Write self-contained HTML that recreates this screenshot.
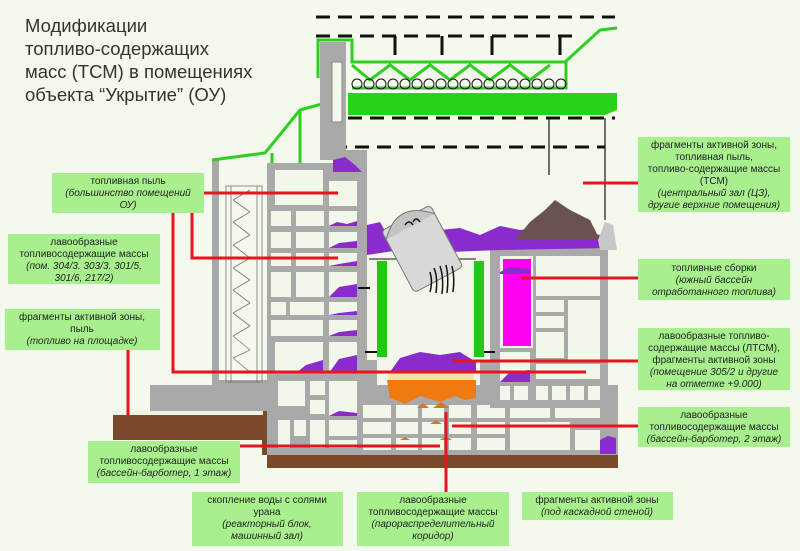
<!DOCTYPE html>
<html><head><meta charset="utf-8"><style>
html,body{margin:0;padding:0;background:#f3f9ec;}
svg{display:block;}
.l{font-family:"Liberation Sans",sans-serif;font-size:10px;fill:#222;text-anchor:middle;}
.i{font-style:italic;}
</style></head><body>
<svg width="800" height="551" viewBox="0 0 800 551" xmlns="http://www.w3.org/2000/svg">
<rect width="800" height="551" fill="#f3f9ec"/>
<!-- title -->
<g font-family="Liberation Sans, sans-serif" font-size="18.5" fill="#333">
<text x="25" y="32">Модификации</text>
<text x="25" y="55">топливо-содержащих</text>
<text x="25" y="78">масс (ТСМ) в помещениях</text>
<text x="25" y="101">объекта “Укрытие” (ОУ)</text>
</g>
<!-- ground -->
<polygon points="113,413 213,413 213,405 267,405 267,468 618,468 618,455 262,455 262,440 113,440" fill="#7a4a2a"/>
<rect x="113" y="413" width="150" height="27" fill="#7a4a2a"/>
<rect x="113" y="411" width="150" height="4" fill="#eef4e6"/>
<!-- left step -->
<rect x="150" y="385" width="117" height="26" fill="#a9a9a9"/>
<rect x="212" y="160" width="7" height="228" fill="#a9a9a9"/>
<rect x="217" y="380" width="50" height="8" fill="#a9a9a9"/>
<!-- stair pattern -->
<g stroke="#777" stroke-width="0.8" fill="none">
<rect x="226" y="186" width="36" height="196"/>
<line x1="231" y1="186" x2="231" y2="382"/><line x1="257" y1="186" x2="257" y2="382"/>
<path d="M233,200 L250,190 M233,200 L250,212 M233,222 L250,212 M233,222 L250,235 M233,245 L250,235 M233,245 L250,258 M233,268 L250,258 M233,268 L250,280 M233,290 L250,280 M233,290 L250,303 M233,313 L250,303 M233,313 L250,326 M233,336 L250,326 M233,336 L250,350 M233,358 L250,350 M233,358 L250,372"/>
</g>
<!-- green roof lines -->
<g stroke="#2fcf1f" stroke-width="3" fill="none">
<polyline points="212,160 265,153 300,110 322,104"/>
<line x1="300" y1="110" x2="300" y2="163"/>
<line x1="272" y1="153" x2="272" y2="163"/>
<polyline points="318,78 318,40 352,40 352,62 565,62 600,30 617,28"/>
<polyline points="352,88 566,88 566,62"/>
<polyline points="352,65 370,80 390,65 410,80 430,65 450,80 470,65 490,80 510,65 530,80 550,65"/>
</g>
<g fill="none" stroke="#111" stroke-width="1">
<circle cx="357" cy="84" r="5"/><circle cx="369" cy="84" r="5"/><circle cx="381" cy="84" r="5"/><circle cx="393" cy="84" r="5"/><circle cx="405" cy="84" r="5"/><circle cx="417" cy="84" r="5"/><circle cx="429" cy="84" r="5"/><circle cx="441" cy="84" r="5"/><circle cx="453" cy="84" r="5"/><circle cx="465" cy="84" r="5"/><circle cx="477" cy="84" r="5"/><circle cx="489" cy="84" r="5"/><circle cx="501" cy="84" r="5"/><circle cx="513" cy="84" r="5"/><circle cx="525" cy="84" r="5"/><circle cx="537" cy="84" r="5"/><circle cx="549" cy="84" r="5"/><circle cx="561" cy="84" r="5"/>
</g>
<polygon points="348,93 617,93 617,110 605,115 348,115" fill="#27d31a"/>
<!-- dashed -->
<g stroke="#111" stroke-width="3" stroke-dasharray="14,8" fill="none">
<line x1="316" y1="17" x2="615" y2="17"/>
<line x1="316" y1="36" x2="580" y2="36"/>
<line x1="348" y1="118" x2="615" y2="118"/>
<line x1="333" y1="147" x2="605" y2="147"/>
</g>
<g stroke="#111" stroke-width="3"><line x1="395" y1="36" x2="395" y2="55"/><line x1="442" y1="36" x2="442" y2="55"/><line x1="492" y1="36" x2="492" y2="55"/><line x1="560" y1="36" x2="560" y2="55"/></g>
<g stroke="#111" stroke-width="1.2"><line x1="549" y1="118" x2="549" y2="175"/><line x1="605" y1="118" x2="605" y2="220"/></g>
<!-- tower -->
<rect x="320" y="42" width="26" height="118" fill="#a9a9a9"/>
<rect x="332" y="62" width="10" height="60" fill="#f3f9ec" stroke="#888"/>
<!-- left block -->
<rect x="267" y="163" width="100" height="292" fill="#a9a9a9"/>
<rect x="333" y="150" width="34" height="15" fill="#a9a9a9"/>
<g fill="#f1f8ea">
<rect x="275" y="170" width="48" height="35"/><rect x="329" y="181" width="28" height="25"/>
<rect x="271" y="211" width="20" height="15"/><rect x="296" y="211" width="28" height="15"/><rect x="329" y="211" width="28" height="15"/>
<rect x="271" y="232" width="20" height="16"/><rect x="296" y="232" width="28" height="16"/><rect x="329" y="232" width="28" height="16"/>
<rect x="271" y="253" width="20" height="13"/><rect x="296" y="253" width="28" height="13"/><rect x="329" y="253" width="28" height="13"/>
<rect x="271" y="272" width="20" height="25"/><rect x="296" y="272" width="28" height="25"/><rect x="329" y="272" width="28" height="25"/>
<rect x="271" y="302" width="15" height="13"/><rect x="290" y="302" width="34" height="13"/><rect x="329" y="302" width="28" height="13"/>
<rect x="271" y="320" width="52" height="16"/><rect x="329" y="320" width="28" height="16"/>
<rect x="275" y="342" width="48" height="31"/><rect x="329" y="342" width="28" height="31"/>
<rect x="278" y="381" width="27" height="25"/><rect x="310" y="381" width="15" height="14"/><rect x="310" y="400" width="15" height="14"/><rect x="329" y="381" width="28" height="35"/>
<rect x="278" y="420" width="12" height="28"/><rect x="294" y="420" width="12" height="16"/><rect x="310" y="420" width="15" height="28"/><rect x="329" y="420" width="28" height="16"/><rect x="329" y="440" width="28" height="8"/>
</g>
<!-- bottom block -->
<rect x="367" y="385" width="251" height="70" fill="#a9a9a9"/>
<g fill="#f1f8ea">
<rect x="363" y="405" width="28" height="13"/><rect x="396" y="405" width="22" height="13"/><rect x="422" y="405" width="22" height="13"/><rect x="449" y="405" width="22" height="13"/><rect x="477" y="405" width="28" height="13"/><rect x="510" y="405" width="40" height="13"/><rect x="555" y="405" width="45" height="13"/>
<rect x="363" y="422" width="28" height="12"/><rect x="396" y="422" width="22" height="12"/><rect x="422" y="422" width="22" height="12"/><rect x="449" y="422" width="22" height="12"/><rect x="477" y="422" width="28" height="12"/><rect x="510" y="422" width="60" height="28"/><rect x="575" y="430" width="25" height="20"/>
<rect x="363" y="438" width="28" height="12"/><rect x="396" y="438" width="22" height="12"/><rect x="422" y="438" width="22" height="12"/><rect x="449" y="438" width="22" height="12"/><rect x="477" y="438" width="28" height="12"/>
</g>
<!-- right block -->
<rect x="490" y="248" width="118" height="160" fill="#a9a9a9"/>
<g fill="#f1f8ea">
<rect x="500" y="256" width="33" height="92"/><rect x="536" y="256" width="64" height="40"/><rect x="536" y="300" width="28" height="12"/><rect x="536" y="316" width="28" height="12"/><rect x="536" y="332" width="28" height="26"/><rect x="568" y="300" width="32" height="60"/>
<rect x="500" y="352" width="30" height="30"/><rect x="536" y="364" width="64" height="15"/>
<rect x="500" y="386" width="10" height="14"/><rect x="514" y="386" width="14" height="14"/><rect x="536" y="386" width="12" height="14"/><rect x="552" y="386" width="14" height="14"/><rect x="570" y="386" width="14" height="14"/><rect x="588" y="386" width="12" height="14"/>
</g>
<!-- reactor shaft -->
<rect x="367" y="255" width="123" height="130" fill="#f1f8ea"/>
<rect x="367" y="360" width="10" height="40" fill="#a9a9a9"/>
<rect x="480" y="360" width="10" height="40" fill="#a9a9a9"/>
<rect x="377" y="261" width="10" height="96" fill="#22c814"/>
<rect x="474" y="261" width="10" height="96" fill="#22c814"/>
<line x1="369" y1="259" x2="476" y2="259" stroke="#111" stroke-width="1"/>
<rect x="388" y="372" width="86" height="10" fill="#efe4b0"/>
<polygon points="387,380 476,380 476,398 465,400 455,396 440,402 420,396 405,404 390,398" fill="#f07a10"/>
<path d="M417,408 l6,-5 l6,5z M433,408 l8,-6 l8,6z M430,424 l6,-4 l6,4z M440,440 l6,-4 l6,4z M400,440 l5,-3 l5,3z" fill="#d2752a"/>
<!-- magenta -->
<rect x="503" y="259" width="28" height="87" fill="#ff00f0"/>
<!-- purple debris -->
<g fill="#8a2ccc">
<path d="M367,225 L380,222 L390,240 L400,250 L367,255z"/>
<path d="M440,230 L460,228 L480,235 L500,226 L520,230 L560,225 L600,235 L610,248 L500,250 L450,252z"/>
<path d="M333,160 L345,157 L355,165 L362,172 L333,172z"/>
<path d="M390,372 L400,358 L420,352 L440,355 L460,352 L476,362 L476,372 L390,372z"/>
<path d="M329,226 l8,-4 l10,2 l10,-3 v5 h-28z M329,248 l10,-5 l18,-2 v7 h-28z M329,266 l10,-2 l18,-3 v5 h-28z M329,297 l10,-10 l18,-3 v13 h-28z M329,315 l10,-2 l18,-2 v4 h-28z M329,336 l10,-4 l18,-2 v6 h-28z M329,373 l10,-14 l18,-4 v18 h-28z M296,373 l10,-8 l17,-5 v13 h-27z M329,416 l10,-5 l18,2 v3 h-28z M500,382 l10,-10 l20,-2 v12 h-30z M500,272 l10,-5 l20,2 v5 h-30z M600,440 l8,-4 l8,2 v16 h-16z"/>
</g>
<path d="M515,240 L530,222 L545,210 L555,200 L570,210 L590,220 L600,240z" fill="#6b5252"/>
<path d="M598,240 L605,222 L613,225 L617,250 L600,250z" fill="#c8c8c8"/>
<!-- reactor lid -->
<g transform="rotate(-28 420 250)">
<rect x="395" y="215" width="55" height="70" rx="4" fill="#d8d8d8" stroke="#777"/>
<path d="M395,225 Q422,195 450,225" fill="#c4c4c4" stroke="#777"/>
</g>
<g stroke="#111" stroke-width="1.5" fill="none"><path d="M434,268 q4,10 2,25 M440,266 q4,12 2,28 M446,265 q3,12 1,28 M452,266 q3,12 1,26 M430,272 q3,10 0,20"/><path d="M405,225 q4,-6 8,0 M413,222 q3,-6 7,0"/></g>
<line x1="358" y1="288" x2="370" y2="288" stroke="#111" stroke-width="2"/>
<line x1="365" y1="352" x2="377" y2="352" stroke="#111" stroke-width="2"/>
<line x1="484" y1="352" x2="495" y2="352" stroke="#111" stroke-width="2"/>
<!-- red lines -->
<g stroke="#e8141e" stroke-width="3" fill="none">
<line x1="204" y1="193" x2="338" y2="193"/>
<polyline points="173,213 173,372 586,372"/>
<polyline points="192,213 192,258 338,258"/>
<line x1="128" y1="350" x2="128" y2="416"/>
<line x1="583" y1="183" x2="638" y2="183"/>
<line x1="521" y1="278" x2="638" y2="278"/>
<line x1="453" y1="361" x2="638" y2="361"/>
<line x1="452" y1="426" x2="638" y2="426"/>
<line x1="240" y1="446" x2="440" y2="446"/>
<line x1="446" y1="412" x2="446" y2="492"/>
</g>
<!-- label boxes -->
<g fill="#a8f08e">
<rect x="52" y="173" width="152" height="40"/>
<rect x="8" y="234" width="152" height="50"/>
<rect x="5" y="309" width="155" height="41"/>
<rect x="638" y="137" width="152" height="75"/>
<rect x="638" y="259" width="152" height="41"/>
<rect x="638" y="328" width="152" height="62"/>
<rect x="638" y="407" width="152" height="40"/>
<rect x="88" y="441" width="152" height="42"/>
<rect x="192" y="492" width="151" height="54"/>
<rect x="357" y="492" width="152" height="54"/>
<rect x="522" y="492" width="151" height="28"/>
</g>
<g class="l">
<text x="128" y="184">топливная пыль</text><text x="128" y="196" class="i">(большинство помещений</text><text x="128" y="208" class="i">ОУ)</text>
<text x="84" y="245">лавообразные</text><text x="84" y="257">топливосодержащие массы</text><text x="84" y="269" class="i">(пом. 304/3. 303/3. 301/5,</text><text x="84" y="281" class="i">301/6, 217/2)</text>
<text x="82" y="320">фрагменты активной зоны,</text><text x="82" y="332">пыль</text><text x="82" y="344" class="i">(топливо на площадке)</text>
<text x="714" y="148">фрагменты активной зоны,</text><text x="714" y="160">топливная пыль,</text><text x="714" y="172">топливо-содержащие массы</text><text x="714" y="184">(ТСМ)</text><text x="714" y="196" class="i">(центральный зал (ЦЗ),</text><text x="714" y="208" class="i">другие верхние помещения)</text>
<text x="714" y="271">топливные сборки</text><text x="714" y="283" class="i">(южный бассейн</text><text x="714" y="295" class="i">отработанного топлива)</text>
<text x="714" y="339">лавообразные топливо-</text><text x="714" y="351">содержащие массы (ЛТСМ),</text><text x="714" y="363">фрагменты активной зоны</text><text x="714" y="375" class="i">(помещение 305/2 и другие</text><text x="714" y="387" class="i">на отметке +9.000)</text>
<text x="714" y="418">лавообразные</text><text x="714" y="430">топливосодержащие массы</text><text x="714" y="442" class="i">(бассейн-барботер, 2 этаж)</text>
<text x="164" y="452">лавообразные</text><text x="164" y="464">топливосодержащие массы</text><text x="164" y="476" class="i">(бассейн-барботер, 1 этаж)</text>
<text x="267" y="503">скопление воды с солями</text><text x="267" y="515">урана</text><text x="267" y="527" class="i">(реакторный блок,</text><text x="267" y="539" class="i">машинный зал)</text>
<text x="433" y="503">лавообразные</text><text x="433" y="515">топливосодержащие массы</text><text x="433" y="527" class="i">(пароpаспределительный</text><text x="433" y="539" class="i">коридор)</text>
<text x="597" y="503">фрагменты активной зоны</text><text x="597" y="515" class="i">(под каскадной стеной)</text>
</g>
</svg>
</body></html>
